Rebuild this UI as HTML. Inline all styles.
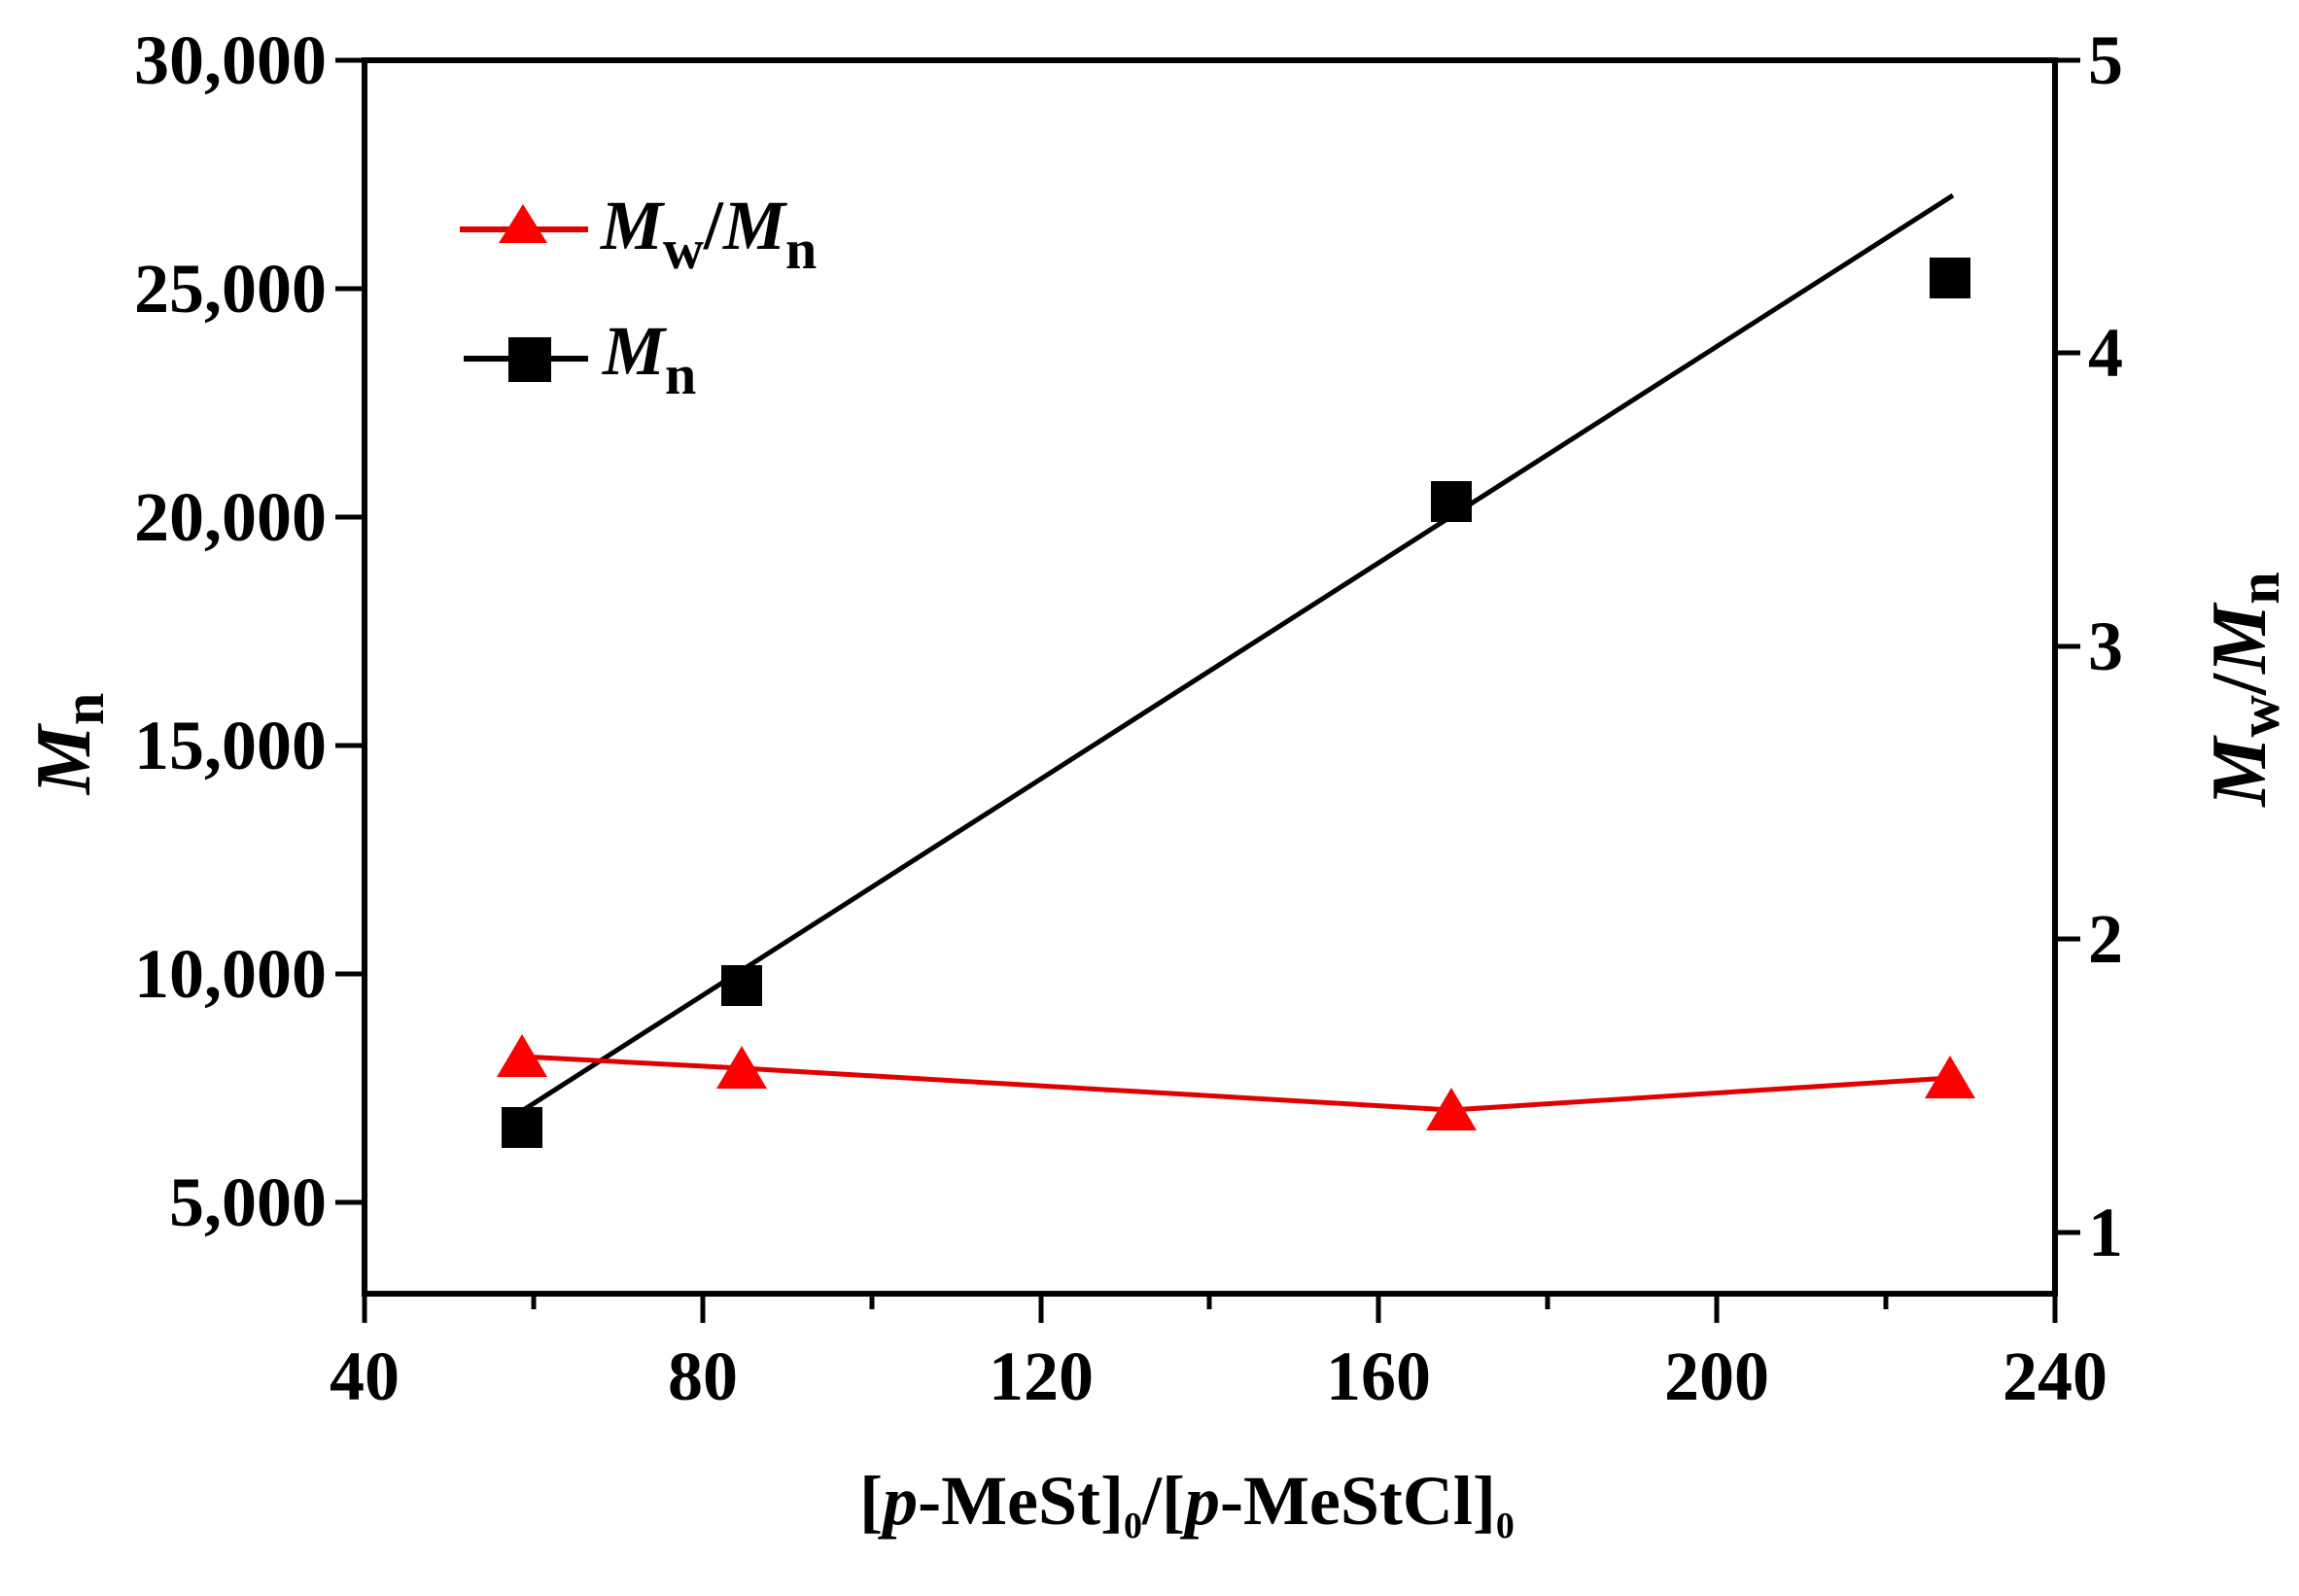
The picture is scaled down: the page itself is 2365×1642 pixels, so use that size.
<!DOCTYPE html>
<html><head><meta charset="utf-8"><style>html,body{margin:0;padding:0;background:#fff}</style></head>
<body>
<svg width="2365" height="1637" viewBox="0 0 2365 1637" xmlns="http://www.w3.org/2000/svg" font-family="Liberation Serif, serif" font-weight="bold">
<rect width="2365" height="1637" fill="#fff"/>
<rect x="375" y="62" width="1739" height="1269" fill="none" stroke="#000" stroke-width="6"/>
<g stroke="#000" stroke-width="5">
<line x1="345" y1="62" x2="375" y2="62"/>
<line x1="345" y1="297" x2="375" y2="297"/>
<line x1="345" y1="532" x2="375" y2="532"/>
<line x1="345" y1="767" x2="375" y2="767"/>
<line x1="345" y1="1002" x2="375" y2="1002"/>
<line x1="345" y1="1237" x2="375" y2="1237"/>
<line x1="2114" y1="62" x2="2140" y2="62"/>
<line x1="2114" y1="363" x2="2140" y2="363"/>
<line x1="2114" y1="665" x2="2140" y2="665"/>
<line x1="2114" y1="966" x2="2140" y2="966"/>
<line x1="2114" y1="1268" x2="2140" y2="1268"/>
<line x1="375" y1="1331" x2="375" y2="1361"/>
<line x1="723" y1="1331" x2="723" y2="1361"/>
<line x1="1071" y1="1331" x2="1071" y2="1361"/>
<line x1="1418" y1="1331" x2="1418" y2="1361"/>
<line x1="1766" y1="1331" x2="1766" y2="1361"/>
<line x1="2114" y1="1331" x2="2114" y2="1361"/>
<line x1="549" y1="1331" x2="549" y2="1347"/>
<line x1="897" y1="1331" x2="897" y2="1347"/>
<line x1="1244" y1="1331" x2="1244" y2="1347"/>
<line x1="1592" y1="1331" x2="1592" y2="1347"/>
<line x1="1940" y1="1331" x2="1940" y2="1347"/>
</g>
<g font-size="72" text-anchor="end">
<text x="336" y="86">30,000</text>
<text x="336" y="321">25,000</text>
<text x="336" y="556">20,000</text>
<text x="336" y="791">15,000</text>
<text x="336" y="1026">10,000</text>
<text x="336" y="1261">5,000</text>
</g>
<g font-size="72" text-anchor="start">
<text x="2148" y="86">5</text>
<text x="2148" y="387">4</text>
<text x="2148" y="689">3</text>
<text x="2148" y="990">2</text>
<text x="2148" y="1292">1</text>
</g>
<g font-size="72" text-anchor="middle">
<text x="375" y="1440">40</text>
<text x="723" y="1440">80</text>
<text x="1071" y="1440">120</text>
<text x="1418" y="1440">160</text>
<text x="1766" y="1440">200</text>
<text x="2114" y="1440">240</text>
</g>
<text x="1221" y="1568" font-size="72" text-anchor="middle">[<tspan font-style="italic">p</tspan>-MeSt]<tspan font-size="38" dy="14">0</tspan><tspan dy="-14">/[</tspan><tspan font-style="italic">p</tspan>-MeStCl]<tspan font-size="38" dy="14">0</tspan></text>
<text transform="translate(92,765) rotate(-90)" font-size="80" text-anchor="middle"><tspan font-style="italic">M</tspan><tspan font-size="60" dy="14">n</tspan></text>
<text transform="translate(2330,709) rotate(-90)" font-size="80" text-anchor="middle"><tspan font-style="italic">M</tspan><tspan font-size="60" dy="14">w</tspan><tspan dy="-14">/</tspan><tspan font-style="italic">M</tspan><tspan font-size="60" dy="14">n</tspan></text>
<line x1="540" y1="1141" x2="2009" y2="201" stroke="#000" stroke-width="5"/>
<g fill="#000">
<rect x="516" y="1139" width="42" height="42"/>
<rect x="742" y="993" width="42" height="42"/>
<rect x="1472" y="495" width="42" height="42"/>
<rect x="1985" y="265" width="42" height="42"/>
</g>
<polyline points="537,1087 763,1099 1493,1142 2006,1109" fill="none" stroke="#e00000" stroke-width="5"/>
<g fill="#ff0000">
<polygon points="537,1064 563,1108 511,1108"/>
<polygon points="763,1076 789,1120 737,1120"/>
<polygon points="1493,1119 1519,1163 1467,1163"/>
<polygon points="2006,1086 2032,1130 1980,1130"/>
</g>
<line x1="473" y1="236" x2="605" y2="236" stroke="#e00000" stroke-width="6"/>
<polygon points="538,210 563,250 513,250" fill="#ff0000"/>
<text x="618" y="256" font-size="72"><tspan font-style="italic">M</tspan><tspan font-size="58" dy="20">w</tspan><tspan dy="-20">/</tspan><tspan font-style="italic">M</tspan><tspan font-size="58" dy="20">n</tspan></text>
<line x1="477" y1="369" x2="605" y2="369" stroke="#000" stroke-width="6"/>
<rect x="523" y="347" width="44" height="46" fill="#000"/>
<text x="620" y="385" font-size="72"><tspan font-style="italic">M</tspan><tspan font-size="58" dy="20">n</tspan></text>
</svg>
</body></html>
